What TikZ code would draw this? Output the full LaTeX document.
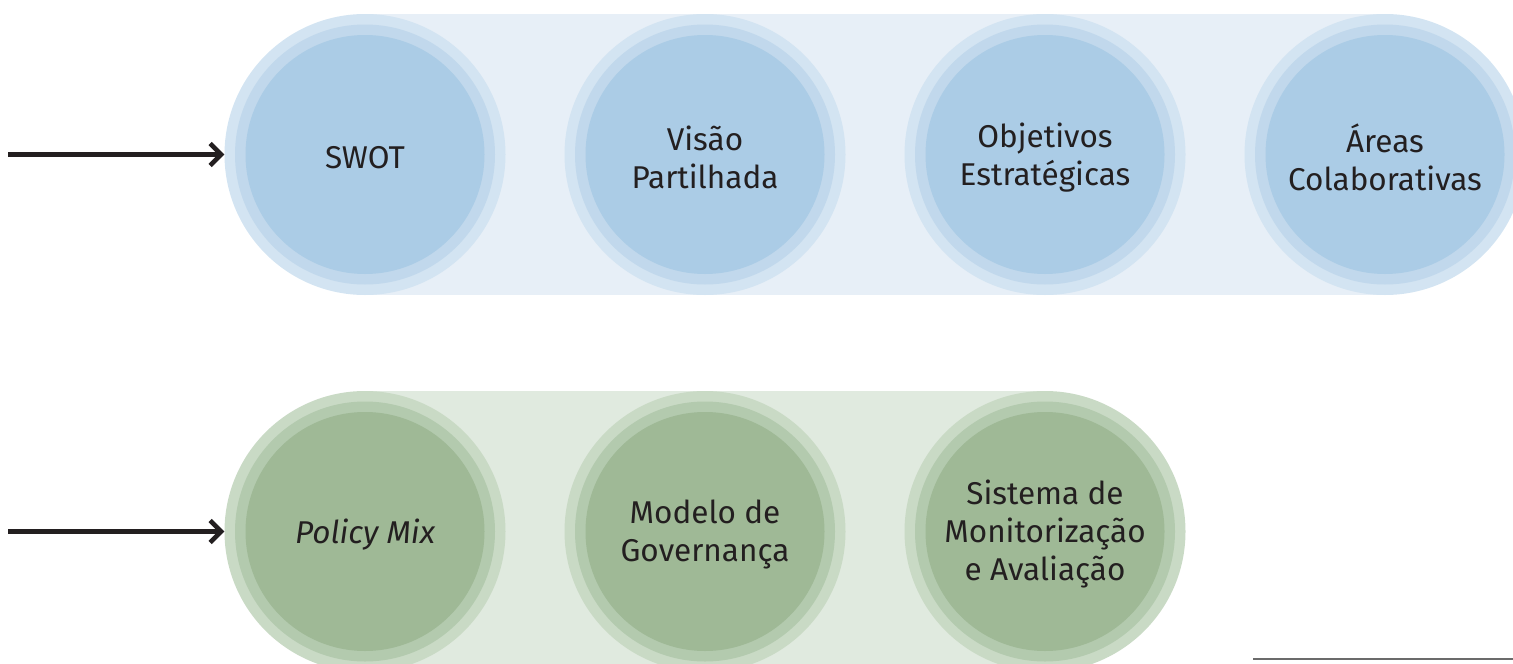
\documentclass[tikz,border=0pt]{standalone}
\usepackage{fontspec}
\setmainfont{Fira Sans}
\usetikzlibrary{arrows.meta}
\definecolor{bband}{HTML}{E7EFF7}
\definecolor{bouter}{HTML}{D3E4F2}
\definecolor{bmid}{HTML}{C1D8EC}
\definecolor{binner}{HTML}{ABCCE6}
\definecolor{gband}{HTML}{E0EADF}
\definecolor{gouter}{HTML}{C9DAC5}
\definecolor{gmid}{HTML}{B3CAAE}
\definecolor{ginner}{HTML}{9FB996}
\definecolor{txtc}{HTML}{231F20}
\definecolor{rulec}{HTML}{6B6B6B}
\begin{document}
\begin{tikzpicture}[x=1pt,y=-1pt,
  bubble/.style={circle,inner sep=0pt,minimum size=281pt},
  lbl/.style={text=txtc,align=center,font=\fontsize{31.5}{38}\selectfont,yshift=-3pt},
  arr/.style={line width=4.5pt,txtc,-{Straight Barb[length=11pt,width=22pt,line width=4.5pt]}}]
\useasboundingbox (0,0) rectangle (1513,664);
\clip (0,0) rectangle (1513,664);
% top band
\fill[bband] (365,14) rectangle (1385,295);
% bottom band
\fill[gband] (365,391) rectangle (1045,672);
% top circles
\foreach \n/\x in {a/365,b/705,c/1045,d/1385}{
  \node[bubble,fill=bouter] (\n) at (\x,154.5) {};
  \fill[bmid] (\n.center) circle (130);
  \fill[binner] (\n.center) circle (119.5);
}
\foreach \n/\x in {e/365,f/705,g/1045}{
  \node[bubble,fill=gouter] (\n) at (\x,531.5) {};
  \fill[gmid] (\n.center) circle (130);
  \fill[ginner] (\n.center) circle (119.5);
}
\node[lbl] (ta) at (a) {SWOT};
\node[lbl] (tb) at (b) {Visão\\Partilhada};
\node[lbl] (tc) at (c) {Objetivos\\Estratégicas};
\node[lbl] (td) at (d) {Áreas\\Colaborativas};
\node[lbl] (te) at (e) {\itshape Policy Mix};
\node[lbl] (tf) at (f) {Modelo de\\Governança};
\node[lbl] (tg) at (g) {Sistema de\\Monitorização\\e Avaliação};
% arrows
\coordinate (sa) at (8,154.5);
\coordinate (se) at (8,531.5);
\draw[arr] (sa) -- (a.west);
\draw[arr] (se) -- (e.west);
% bottom-right rule
\coordinate (r1) at (1253,659);
\coordinate (r2) at (1513,659);
\draw[line width=2pt,rulec] (r1) -- (r2);
\end{tikzpicture}
\end{document}
